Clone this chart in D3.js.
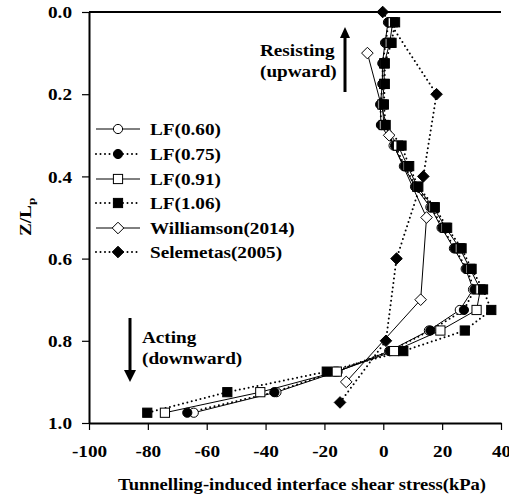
<!DOCTYPE html>
<html>
<head>
<meta charset="utf-8">
<script src="https://cdn.jsdelivr.net/npm/d3@7"></script>
<style>
  html, body { margin: 0; padding: 0; background: #fff; }
  svg { display: block; }
  text { font-family: "Liberation Serif", "Times New Roman", serif; font-weight: bold; fill: #000; }
</style>
</head>
<body>
<svg id="chart" width="509" height="500"></svg>
<script>
// Normalised depth of each LF measurement point
const depthLF = [0.025, 0.075, 0.125, 0.175, 0.225, 0.275, 0.325, 0.375, 0.425, 0.475,
                 0.525, 0.575, 0.625, 0.675, 0.725, 0.775, 0.825, 0.875, 0.925, 0.975];
// Interface shear stress (kPa) for each loss factor
const lf060 = [1.6, 0.6, -0.3, -0.3, -1.0, -0.8, 3.5, 7.0, 10.8, 16.0,
               19.8, 24.0, 28.0, 30.5, 26.0, 15.5, 2.0, -15.5, -36.3, -64.4];
const lf075 = [1.8, 0.8, -0.2, -0.2, -1.0, -0.7, 4.0, 7.3, 11.0, 16.4,
               20.1, 24.3, 28.3, 31.0, 27.4, 16.0, 2.3, -16.4, -37.0, -66.6];
const lf091 = [3.2, 2.2, 0.3, 0.3, -0.3, 0.2, 5.0, 8.3, 11.5, 17.0,
               21.2, 26.0, 29.5, 33.0, 31.7, 19.4, 3.7, -15.8, -41.8, -74.2];
const lf106 = [4.0, 2.8, 0.5, 0.5, 0.2, 0.8, 6.2, 8.8, 11.9, 17.5,
               21.7, 26.6, 30.0, 33.9, 36.7, 27.7, 6.8, -19.2, -53.0, -80.2];
// Published results
const depthWilliamson = [0.1, 0.3, 0.5, 0.7, 0.9];
const williamson = [-5.4, 2.0, 14.7, 12.7, -12.6];
const depthSelemetas = [0.0, 0.2, 0.4, 0.6, 0.8, 0.95];
const selemetas = [-0.2, 18.1, 13.6, 4.5, 0.9, -14.7];

const seriesNames = ["LF(0.60)", "LF(0.75)", "LF(0.91)", "LF(1.06)", "Williamson(2014)", "Selemetas(2005)"];
const xTicks = [-100, -80, -60, -40, -20, 0, 20, 40];
const yTicks = [0.0, 0.2, 0.4, 0.6, 0.8, 1.0];

const series = [
  { name: seriesNames[0], z: depthLF, v: lf060, marker: "circle", fill: "#fff", dotted: false },
  { name: seriesNames[1], z: depthLF, v: lf075, marker: "circle", fill: "#000", dotted: true },
  { name: seriesNames[2], z: depthLF, v: lf091, marker: "square", fill: "#fff", dotted: false },
  { name: seriesNames[3], z: depthLF, v: lf106, marker: "square", fill: "#000", dotted: true },
  { name: seriesNames[4], z: depthWilliamson, v: williamson, marker: "diamond", fill: "#fff", dotted: false },
  { name: seriesNames[5], z: depthSelemetas, v: selemetas, marker: "diamond", fill: "#000", dotted: true }
];

const SX = 1.2; // horizontal stretch of the bold serif lettering

const svg = d3.select("#chart");
const mLeft = 89, mRight = 501, mTop = 12, mBottom = 423;

const x = d3.scaleLinear().domain([-100, 40]).range([mLeft, mRight]);
const y = d3.scaleLinear().domain([0, 1]).range([mTop, mBottom]);

function stretchedText(g, tx, ty, str, anchor, size, sx) {
  return g.append("text")
    .attr("transform", `translate(${tx},${ty}) scale(${sx || SX},1)`)
    .attr("text-anchor", anchor || "start")
    .style("font-size", (size || 16) + "px")
    .text(str);
}

// Axes
const yAxis = svg.append("g")
  .attr("transform", `translate(${mLeft},0)`)
  .call(d3.axisLeft(y).tickValues(yTicks).tickFormat(d3.format(".1f")).tickSize(7).tickSizeOuter(0));
const xAxis = svg.append("g")
  .attr("transform", `translate(0,${mBottom})`)
  .call(d3.axisBottom(x).tickValues(xTicks).tickFormat(d => String(d)).tickSize(7).tickSizeOuter(0));

[yAxis, xAxis].forEach(a => {
  a.select(".domain").attr("stroke", "#000").attr("stroke-width", 2);
  a.selectAll(".tick line").attr("stroke", "#000").attr("stroke-width", 1.2);
  a.selectAll(".tick text").style("font-size", "16px").attr("fill", "#000");
});
yAxis.selectAll(".tick text")
  .attr("x", -17 / SX).attr("dy", "0.35em")
  .attr("transform", `scale(${SX},1)`);
xAxis.selectAll(".tick text")
  .attr("y", 0).attr("dy", "0")
  .attr("transform", `translate(0,34) scale(${SX},1)`);

// Top frame line
svg.append("line")
  .attr("x1", mLeft).attr("x2", mRight).attr("y1", mTop).attr("y2", mTop)
  .attr("stroke", "#000").attr("stroke-width", 2);

// Axis titles
stretchedText(svg, 302, 490, "Tunnelling-induced interface shear stress(kPa)", "middle", 16, 1.16);
const yt = svg.append("text")
  .attr("transform", `translate(31,236) rotate(-90) scale(${SX},1)`)
  .style("font-size", "16px");
yt.append("tspan").text("Z/L");
yt.append("tspan").attr("dy", 4).style("font-size", "11px").text("p");

// Markers
function drawMarker(g, type, cx, cy, fill) {
  let m;
  if (type === "circle") {
    m = g.append("circle").attr("cx", cx).attr("cy", cy).attr("r", 4.6);
  } else if (type === "square") {
    m = g.append("rect").attr("x", cx - 4.6).attr("y", cy - 4.6).attr("width", 9.2).attr("height", 9.2);
  } else {
    const r = 5.8;
    m = g.append("path").attr("d", `M${cx},${cy - r}L${cx + r},${cy}L${cx},${cy + r}L${cx - r},${cy}Z`);
  }
  m.attr("fill", fill).attr("stroke", "#000").attr("stroke-width", 1);
}

function styleLine(sel, dotted) {
  if (dotted) {
    sel.attr("stroke-width", 2).attr("stroke-dasharray", "0,4.5").attr("stroke-linecap", "round");
  } else {
    sel.attr("stroke-width", 1);
  }
  sel.attr("stroke", "#000").attr("fill", "none");
}

const line = d3.line().x(d => x(d[0])).y(d => y(d[1]));
const plot = svg.append("g");

series.forEach(s => {
  const pts = s.v.map((v, i) => [v, s.z[i]]);
  styleLine(plot.append("path").attr("d", line(pts)), s.dotted);
});
series.forEach(s => {
  const g = plot.append("g");
  s.v.forEach((v, i) => drawMarker(g, s.marker, x(v), y(s.z[i]), s.fill));
});

// Legend
const legendY = [129, 154, 179, 203, 228, 252];
const legend = svg.append("g");
series.forEach((s, i) => {
  const ly = legendY[i];
  styleLine(legend.append("path").attr("d", `M96,${ly}L140,${ly}`), s.dotted);
  drawMarker(legend, s.marker, 118, ly, s.fill);
  stretchedText(legend, 150, ly + 6, s.name, "start", 16);
});

// Direction annotations
function arrow(xp, yFrom, yTip, headLen, headW) {
  const dir = yTip > yFrom ? 1 : -1;
  svg.append("line")
    .attr("x1", xp).attr("x2", xp).attr("y1", yFrom).attr("y2", yTip - dir * headLen)
    .attr("stroke", "#000").attr("stroke-width", 3);
  svg.append("path")
    .attr("d", `M${xp},${yTip}L${xp + headW / 2},${yTip - dir * headLen}L${xp - headW / 2},${yTip - dir * headLen}Z`)
    .attr("fill", "#000");
}
arrow(345, 92, 27, 11, 10);
stretchedText(svg, 260, 56, "Resisting", "start", 16);
stretchedText(svg, 260, 77, "(upward)", "start", 16);

arrow(130, 318, 382, 12, 12);
stretchedText(svg, 142, 343, "Acting", "start", 16);
stretchedText(svg, 142, 364, "(downward)", "start", 16);
</script>
</body>
</html>
